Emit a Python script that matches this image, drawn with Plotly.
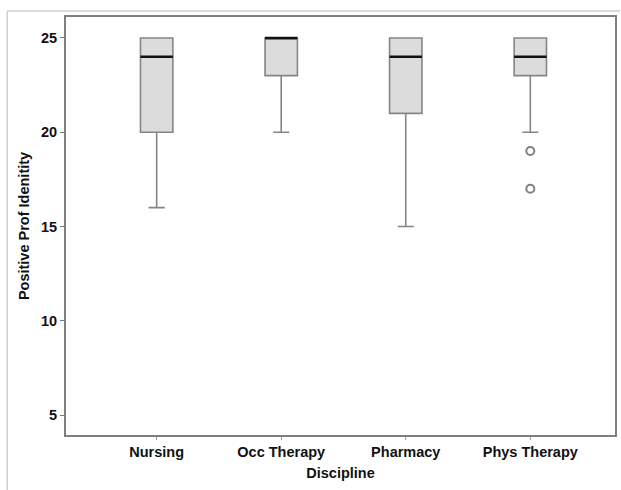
import plotly.graph_objects as go

categories = ["Nursing", "Occ Therapy", "Pharmacy", "Phys Therapy"]
lower_whisker = [16, 20, 15, 20]
q1_vals = [20, 23, 21, 23]
median_vals = [24, 25, 24, 24]
q3_vals = [25, 25, 25, 25]
upper_whisker = [25, 25, 25, 25]
outlier_cats = ["Phys Therapy", "Phys Therapy"]
outlier_vals = [19, 17]
y_ticks = [5, 10, 15, 20, 25]

fig = go.Figure()

fig.add_trace(go.Box(
    x=categories, q1=q1_vals, median=median_vals, q3=q3_vals,
    lowerfence=lower_whisker, upperfence=upper_whisker,
    fillcolor="#dcdcdc", line=dict(color="#858585", width=1.6),
    width=0.26, whiskerwidth=0.5, boxpoints=False, showlegend=False,
))
# black median lines
fig.add_trace(go.Box(
    x=categories, q1=median_vals, median=median_vals, q3=median_vals,
    lowerfence=median_vals, upperfence=median_vals,
    fillcolor="rgba(0,0,0,0)", line=dict(color="#111111", width=2.6),
    width=0.26, whiskerwidth=0, boxpoints=False, showlegend=False,
))
fig.add_trace(go.Scatter(
    x=outlier_cats, y=outlier_vals, mode="markers",
    marker=dict(symbol="circle-open", size=8, color="#808080", line=dict(width=2)),
    showlegend=False,
))

axis_font = dict(family="Liberation Sans, Arial", size=14.5, color="#111")
tick_font = dict(family="Liberation Sans, Arial", size=14.5, color="#111", weight="bold")
fig.update_layout(
    width=621, height=490,
    margin=dict(l=66, r=4, t=17, b=55),
    paper_bgcolor="white", plot_bgcolor="white",
    boxmode="overlay",
    xaxis=dict(
        range=[-0.728, 3.68], showgrid=False, zeroline=False,
        showline=True, linecolor="#7f7f7f", linewidth=2, mirror=True,
        ticks="outside", ticklen=3, tickcolor="#999",
        tickfont=tick_font,
        title=dict(text="<b>Discipline</b>", font=axis_font, standoff=8),
    ),
    yaxis=dict(
        range=[3.94, 26.11], tickvals=y_ticks, showgrid=False, zeroline=False,
        showline=True, linecolor="#7f7f7f", linewidth=2, mirror=True,
        ticks="outside", ticklen=4, tickcolor="#777",
        tickfont=tick_font,
        title=dict(text="<b>Positive Prof Idenitity</b>", font=axis_font, standoff=8),
    ),
    shapes=[
        dict(type="line", xref="paper", yref="paper", x0=-0.107, x1=-0.107, y0=1.0144, y1=-0.14,
             line=dict(color="#cfcfcf", width=1.5)),
        dict(type="line", xref="paper", yref="paper", x0=-0.107, x1=1.01, y0=1.0144, y1=1.0144,
             line=dict(color="#cfcfcf", width=1.5)),
    ],
)

fig.write_html("out.html")
